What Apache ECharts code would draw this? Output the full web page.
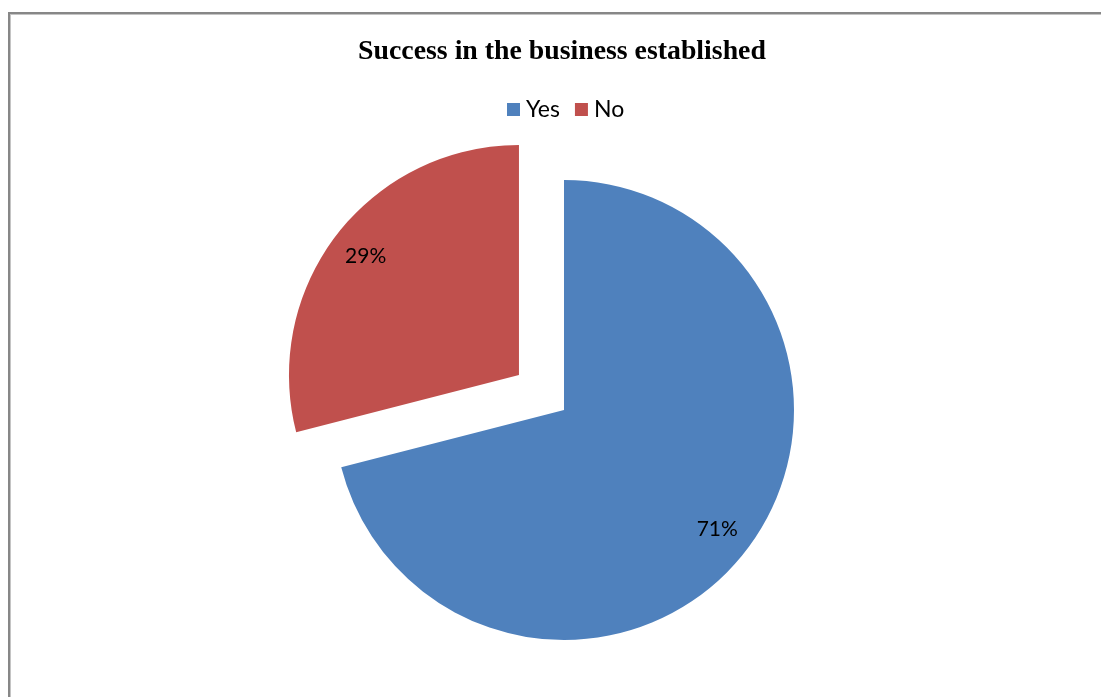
<!DOCTYPE html>
<html>
<head>
<meta charset="utf-8">
<script src="https://cdn.jsdelivr.net/npm/echarts@6/dist/echarts.min.js"></script>
<style>
  html, body { margin: 0; padding: 0; background: #fff; }
  #wrap { position: relative; width: 1101px; height: 697px; overflow: hidden; }
  #frame { position: absolute; left: 8px; top: 12px; width: 1200px; height: 800px;
           border-left: 2px solid #878787; border-top: 2px solid #878787;
           box-shadow: inset 1px 1px 0 #c4c4c4; }
  #chart { position: absolute; left: 0; top: 0; width: 1101px; height: 697px; }
</style>
</head>
<body>
<div id="wrap">
  <div id="frame"></div>
  <div id="chart"></div>
</div>
<script>
// Survey answers: share of respondents whose business succeeded
const categories = ['Yes', 'No'];
const shares = [71, 29];
const colors = ['#4F81BD', '#C0504D'];
const titleText = 'Success in the business established';

const pieCenter = [564, 410];
const pieRadius = 230;
const explodeOffset = 57;

const chart = echarts.init(document.getElementById('chart'), null, { renderer: 'canvas' });

const sliceData = categories.map((name, i) => ({
  name,
  value: shares[i],
  selected: name === 'No',
  itemStyle: { color: colors[i] }
}));

// transparent ring that only carries the percentage labels, placed further out
const labelData = categories.map((name, i) => ({
  name,
  value: shares[i],
  selected: name === 'No',
  itemStyle: { color: 'rgba(0,0,0,0)' }
}));

chart.setOption({
  animation: false,
  title: {
    text: titleText,
    left: 557,
    textAlign: 'center',
    top: 33,
    textStyle: {
      fontFamily: 'Liberation Serif',
      fontWeight: 'bold',
      fontSize: 27.8,
      color: '#000'
    }
  },
  legend: {
    top: 93,
    left: 502,
    icon: 'rect',
    itemWidth: 13,
    itemHeight: 13,
    itemGap: 15,
    selectedMode: false,
    textStyle: { fontFamily: 'Lato', fontSize: 23, color: '#000', padding: [0, 0, 0, 1] },
    data: categories.map((name, i) => ({ name, itemStyle: { color: colors[i] } }))
  },
  series: [
    {
      type: 'pie',
      center: pieCenter,
      radius: pieRadius,
      startAngle: 90,
      clockwise: true,
      selectedMode: 'single',
      selectedOffset: explodeOffset,
      silent: true,
      label: { show: false },
      labelLine: { show: false },
      emphasis: { disabled: true },
      itemStyle: { borderWidth: 0 },
      data: sliceData
    },
    {
      type: 'pie',
      center: pieCenter,
      radius: [152, pieRadius],
      startAngle: 90,
      clockwise: true,
      selectedMode: 'single',
      selectedOffset: explodeOffset,
      silent: true,
      emphasis: { disabled: true },
      labelLine: { show: false },
      label: {
        show: true,
        position: 'inside',
        formatter: '{c}%',
        fontFamily: 'Lato',
        fontSize: 21,
        color: '#000',
        textBorderWidth: 0
      },
      data: labelData
    }
  ]
});
</script>
</body>
</html>
